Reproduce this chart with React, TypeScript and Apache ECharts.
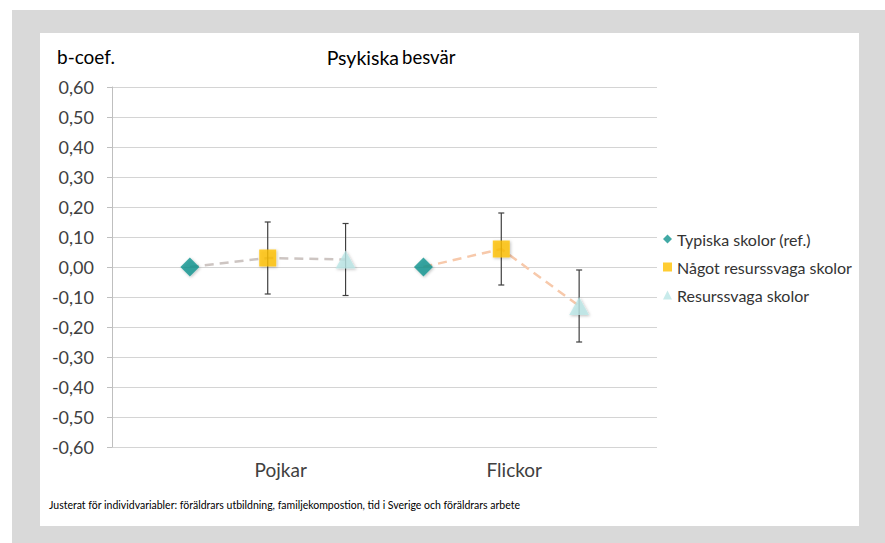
import React, { useEffect, useRef } from "react";
import * as echarts from "echarts";

const categories = ["Pojkar", "Flickor"];
const seriesNames = ["Typiska skolor (ref.)", "Något resurssvaga skolor", "Resurssvaga skolor"];
const typiska = [0, 0];
const nagot = [0.03, 0.06];
const nagotLow = [-0.09, -0.06];
const nagotHigh = [0.15, 0.18];
const resurssvaga = [0.025, -0.13];
const resLow = [-0.095, -0.25];
const resHigh = [0.145, -0.01];
const yTicks = [-0.6, 0.6, 0.1];
const yAxisTitle = "b-coef.";
const footnote = "Justerat för individvariabler: föräldrars utbildning, familjekompostion, tid i Sverige och föräldrars arbete";

const FONT = "Lato";
const pos = (g: number, s: number) => 1 + 3 * g + s;

export default function App() {
  const ref = useRef<HTMLDivElement>(null);
  useEffect(() => {
    document.body.style.margin = "0";
    const chart = echarts.init(ref.current!, null, { renderer: "svg" });
    const shadow = { shadowBlur: 3, shadowOffsetX: 1, shadowOffsetY: 1, shadowColor: "rgba(0,0,0,0.3)" };
    const errData: number[][] = [];
    categories.forEach((_, g) => {
      errData.push([pos(g, 1), nagotLow[g], nagotHigh[g]]);
      errData.push([pos(g, 2), resLow[g], resHigh[g]]);
    });
    const lineColors = ["#cdc5c2", "#f7c9ab"];
    const option: any = {
      animation: false,
      textStyle: { fontFamily: FONT },
      grid: { left: 112, right: 228, top: 87, bottom: 96, containLabel: false },
      xAxis: {
        type: "value",
        min: 0,
        max: 7,
        interval: 1,
        axisLine: { show: false },
        axisTick: { show: false },
        splitLine: { show: false },
        axisLabel: {
          margin: 13,
          fontSize: 19,
          color: "#404040",
          fontFamily: FONT,
          padding: [0, 0, 0, 26],
          formatter: (v: number) => {
            const g = categories.findIndex((_, i) => pos(i, 1) === v);
            return g >= 0 ? categories[g] : "";
          },
        },
      },
      yAxis: {
        type: "value",
        min: yTicks[0],
        max: yTicks[1],
        interval: yTicks[2],
        axisLine: { show: true, lineStyle: { color: "#bfbfbf", width: 1 } },
        axisTick: { show: true, length: 5, lineStyle: { color: "#bfbfbf" } },
        splitLine: { show: true, lineStyle: { color: "#d4d4d4", width: 1 } },
        axisLabel: {
          margin: 18,
          fontSize: 18,
          color: "#404040",
          fontFamily: FONT,
          formatter: (v: number) => v.toFixed(2).replace(".", ","),
        },
      },
      legend: {
        orient: "vertical",
        left: 658,
        top: 226,
        itemGap: 12,
        itemWidth: 9,
        itemHeight: 9,
        textStyle: { fontSize: 16, color: "#333", fontFamily: FONT },
        itemStyle: { shadowBlur: 0, shadowOffsetX: 0, shadowOffsetY: 0 },
        data: seriesNames,
      },
      graphic: [
        {
          type: "text",
          x: 57,
          y: 56,
          style: { text: yAxisTitle, fontSize: 19, fill: "#000", fontFamily: FONT, textVerticalAlign: "middle" },
        },
        {
          type: "text",
          x: 391,
          y: 57,
          style: {
            text: "{a|Psykiska} {b|besvär}",
            textAlign: "center",
            textVerticalAlign: "middle",
            fill: "#000",
            fontFamily: FONT,
            rich: { a: { fontSize: 19.5, fontFamily: FONT }, b: { fontSize: 18.5, fontFamily: FONT } },
          },
        },
        {
          type: "text",
          x: 49,
          y: 505,
          style: { text: footnote, fontSize: 10.5, fill: "#000", fontFamily: FONT, textVerticalAlign: "middle" },
        },
      ],
      series: [
        ...categories.map((c, g) => ({
          type: "line",
          name: c + "-line",
          silent: true,
          symbol: "none",
          z: 1,
          lineStyle: { color: lineColors[g], width: 2.5, type: [9, 6] },
          data: [
            [pos(g, 0), typiska[g]],
            [pos(g, 1), nagot[g]],
            [pos(g, 2), resurssvaga[g]],
          ],
        })),
        {
          type: "custom",
          name: "err",
          z: 2,
          silent: true,
          renderItem: (params: any, api: any) => {
            const x = api.value(0);
            const top = api.coord([x, api.value(2)]);
            const bot = api.coord([x, api.value(1)]);
            const hw = 3;
            const st = { stroke: "#404040", lineWidth: 1.2 };
            return {
              type: "group",
              children: [
                { type: "line", shape: { x1: top[0], y1: top[1], x2: bot[0], y2: bot[1] }, style: st },
                { type: "line", shape: { x1: top[0] - hw, y1: top[1], x2: top[0] + hw, y2: top[1] }, style: st },
                { type: "line", shape: { x1: bot[0] - hw, y1: bot[1], x2: bot[0] + hw, y2: bot[1] }, style: st },
              ],
            };
          },
          data: errData,
        },
        {
          type: "scatter",
          name: seriesNames[0],
          symbol: "diamond",
          symbolSize: 19,
          z: 3,
          itemStyle: { color: "#11948f", ...shadow },
          data: categories.map((_, g) => [pos(g, 0), typiska[g]]),
        },
        {
          type: "scatter",
          name: seriesNames[1],
          symbol: "rect",
          symbolSize: 17,
          z: 3,
          itemStyle: { color: "#ffc000", ...shadow },
          data: categories.map((_, g) => [pos(g, 1), nagot[g]]),
        },
        {
          type: "scatter",
          name: seriesNames[2],
          symbol: "triangle",
          symbolSize: [20, 18],
          z: 3,
          itemStyle: { color: "#bae6e6", ...shadow },
          data: categories.map((_, g) => [pos(g, 2), resurssvaga[g]]),
        },
      ],
    };
    chart.setOption(option);
    return () => chart.dispose();
  }, []);
  return (
    <div style={{ position: "relative", width: 885, height: 543, background: "#fff", overflow: "hidden" }}>
      <div style={{ position: "absolute", left: 12, top: 10, right: 0, bottom: 0, background: "#d9d9d9" }} />
      <div style={{ position: "absolute", left: 40, top: 33, width: 819, height: 493, background: "#fff" }} />
      <div ref={ref} style={{ position: "absolute", left: 0, top: 0, width: 885, height: 543 }} />
    </div>
  );
}
